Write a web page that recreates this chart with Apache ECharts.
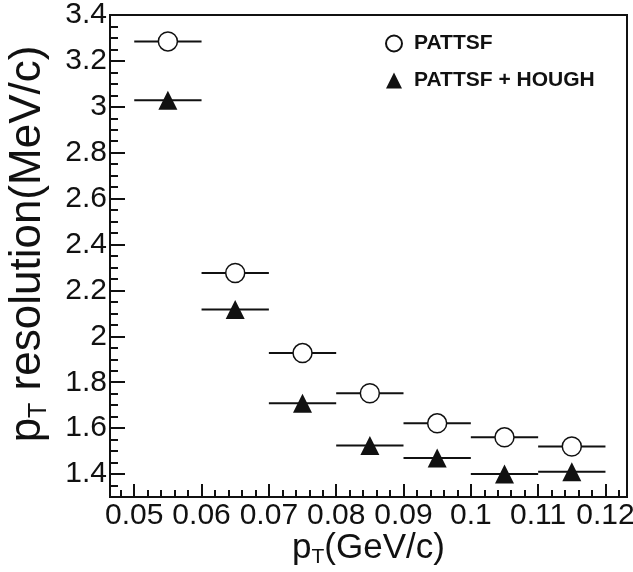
<!DOCTYPE html>
<html><head><meta charset="utf-8">
<script src="https://cdn.jsdelivr.net/npm/echarts@6/dist/echarts.min.js"></script>
<style>html,body{margin:0;padding:0;background:#fff}#c{width:633px;height:572px}</style>
</head><body><div id="c"></div>
<script>
// ---- data ----
const ptBins = [0.055, 0.065, 0.075, 0.085, 0.095, 0.105, 0.115];
const binHalfWidth = 0.005;
const pattsf = [3.285, 2.276, 1.927, 1.752, 1.621, 1.560, 1.520];
const pattsfHough = [3.029, 2.117, 1.708, 1.524, 1.470, 1.400, 1.410];
const seriesNames = ['PATTSF', 'PATTSF + HOUGH'];
const xRange = [0.0464, 0.1232];
const yRange = [1.3, 3.4];

const FONT = 'Liberation Sans';
const INK = '#111';

function errData(vals) {
  return ptBins.map((x, i) => [x - binHalfWidth, x + binHalfWidth, vals[i]]);
}
function errSeries(vals) {
  return {
    type: 'custom',
    silent: true,
    data: errData(vals),
    encode: { x: [0, 1], y: 2 },
    z: 2,
    renderItem: function (params, api) {
      const p1 = api.coord([api.value(0), api.value(2)]);
      const p2 = api.coord([api.value(1), api.value(2)]);
      return { type: 'line', shape: { x1: p1[0], y1: p1[1], x2: p2[0], y2: p2[1] },
               style: { stroke: INK, lineWidth: 2 } };
    }
  };
}

const chart = echarts.init(document.getElementById('c'), null, { renderer: 'canvas' });
chart.setOption({
  animation: false,
  backgroundColor: '#fff',
  textStyle: { fontFamily: FONT },
  grid: { left: 110, top: 15, right: 6, bottom: 75, show: true, borderColor: INK, borderWidth: 2,
          containLabel: false, outerBoundsMode: 'none' },
  legend: {
    orient: 'vertical', left: 380, top: 28, itemWidth: 16, itemHeight: 16, itemGap: 16,
    data: seriesNames,
    textStyle: { fontFamily: FONT, fontSize: 21, fontWeight: 'bold', color: INK, padding: [0, 0, 0, 7] }
  },
  xAxis: {
    type: 'value', min: xRange[0], max: xRange[1], splitNumber: 8,
    axisLine: { lineStyle: { color: INK, width: 2 } },
    axisTick: { inside: true, length: 13, lineStyle: { color: INK, width: 2 } },
    minorTick: { show: true, splitNumber: 5, length: 7, lineStyle: { color: INK, width: 2 } },
    splitLine: { show: false },
    axisLabel: { showMinLabel: false, showMaxLabel: false, fontSize: 30, color: INK, margin: 4, fontFamily: FONT },
    name: '{p|p}{s|T}{n|(GeV/c)}', nameLocation: 'middle', nameGap: 34, nameMoveOverlap: false,
    nameTextStyle: {
      rich: {
        p: { fontSize: 35, fontFamily: FONT, color: INK, lineHeight: 37, verticalAlign: 'top' },
        s: { fontSize: 21, fontFamily: FONT, color: INK, lineHeight: 21, padding: [36, 0, 0, 0], verticalAlign: 'bottom' },
        n: { fontSize: 35, fontFamily: FONT, color: INK, lineHeight: 37, verticalAlign: 'top' }
      }
    }
  },
  yAxis: {
    type: 'value', min: yRange[0], max: yRange[1], splitNumber: 10,
    axisLine: { lineStyle: { color: INK, width: 2 } },
    axisTick: { inside: true, length: 15, lineStyle: { color: INK, width: 2 } },
    minorTick: { show: true, splitNumber: 4, length: 8, lineStyle: { color: INK, width: 2 } },
    splitLine: { show: false },
    axisLabel: { showMinLabel: false, fontSize: 30, color: INK, margin: 3, fontFamily: FONT },
    name: '{p|p}{s|T}{n| resolution(MeV/c)}', nameLocation: 'middle', nameGap: 58, nameRotate: 90,
    nameMoveOverlap: false,
    nameTextStyle: {
      padding: [0, 0, 0, 24],
      rich: {
        p: { fontSize: 44, fontFamily: FONT, color: INK, lineHeight: 46, verticalAlign: 'top' },
        s: { fontSize: 25, fontFamily: FONT, color: INK, lineHeight: 25, padding: [34, 0, 0, 0], verticalAlign: 'bottom' },
        n: { fontSize: 44, fontFamily: FONT, color: INK, lineHeight: 46, verticalAlign: 'top' }
      }
    }
  },
  series: [
    errSeries(pattsf),
    errSeries(pattsfHough),
    {
      name: seriesNames[0], type: 'scatter', symbol: 'circle', symbolSize: 19, z: 3,
      data: ptBins.map((x, i) => [x, pattsf[i]]),
      itemStyle: { color: '#fff', borderColor: INK, borderWidth: 1.5, opacity: 1 }
    },
    {
      name: seriesNames[1], type: 'scatter', symbol: 'triangle', symbolSize: 19, z: 3,
      data: ptBins.map((x, i) => [x, pattsfHough[i]]),
      itemStyle: { color: INK, opacity: 1 }
    }
  ]
});
</script>
</body></html>
